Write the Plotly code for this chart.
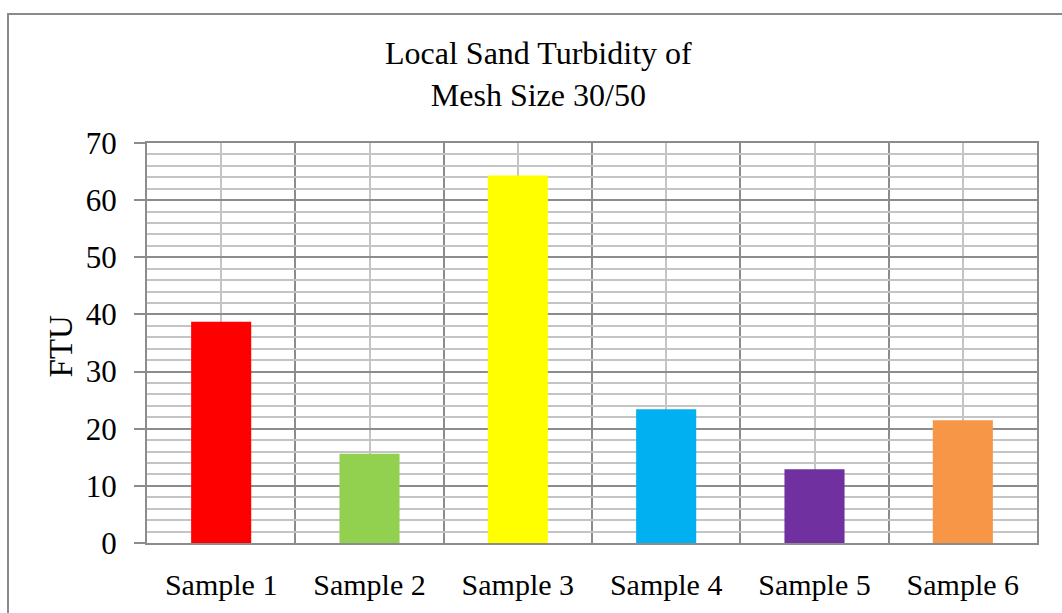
import plotly.graph_objects as go

# Turbidity readings (FTU) for each local sand sample, mesh size 30/50
categories = ["Sample 1", "Sample 2", "Sample 3", "Sample 4", "Sample 5", "Sample 6"]
turbidity = [38.7, 15.6, 64.3, 23.4, 12.9, 21.5]
bar_colors = ["#FF0000", "#92D050", "#FFFF00", "#00B0F0", "#7030A0", "#F79646"]
y_ticks = [0, 10, 20, 30, 40, 50, 60, 70]

positions = list(range(len(categories)))
boundaries = [p + 0.5 for p in range(-1, len(categories))]

FONT = "Liberation Serif, Times New Roman, serif"
DARK = "#8c8c8c"
LIGHT = "#c4c4c4"

fig = go.Figure(
    go.Bar(
        x=positions,
        y=turbidity,
        marker=dict(color=bar_colors, line=dict(width=0)),
        width=0.405,
        hoverinfo="y",
    )
)

fig.update_layout(
    width=1062,
    height=613,
    margin=dict(l=147, r=25, t=143, b=67),
    paper_bgcolor="white",
    plot_bgcolor="white",
    showlegend=False,
    font=dict(family=FONT, color="black"),
    xaxis=dict(
        range=[-0.5, len(categories) - 0.5],
        tickmode="array",
        tickvals=positions,
        ticktext=categories,
        tickfont=dict(size=30, family=FONT, color="black"),
        ticks="",
        ticklabelstandoff=14,
        showgrid=True,
        gridcolor=LIGHT,
        gridwidth=2,
        minor=dict(tickmode="array", tickvals=boundaries, showgrid=True,
                   gridcolor=DARK, gridwidth=2, ticks=""),
        showline=True,
        linecolor=DARK,
        linewidth=2,
        mirror=True,
        zeroline=False,
        fixedrange=True,
    ),
    yaxis=dict(
        range=[0, 70],
        tickmode="array",
        tickvals=y_ticks,
        tickfont=dict(size=31, family=FONT, color="black"),
        ticks="outside",
        ticklen=11,
        tickwidth=2,
        tickcolor=DARK,
        ticklabelstandoff=11,
        showgrid=True,
        gridcolor=DARK,
        gridwidth=2,
        minor=dict(dtick=2, tick0=0, showgrid=True, gridcolor=LIGHT,
                   gridwidth=2, ticks=""),
        showline=True,
        linecolor=DARK,
        linewidth=2,
        mirror=True,
        zeroline=False,
        fixedrange=True,
    ),
    annotations=[
        dict(
            text="Local Sand Turbidity of<br>Mesh Size 30/50",
            xref="paper", yref="paper",
            x=(538 - 147) / 890, y=(546 - 73) / 403,
            xanchor="center", yanchor="middle",
            showarrow=False,
            font=dict(size=32, family=FONT, color="black"),
        ),
        dict(
            text="FTU",
            xref="paper", yref="paper",
            x=(61 - 147) / 890, y=(546 - 348) / 403,
            xanchor="center", yanchor="middle",
            textangle=-90,
            showarrow=False,
            font=dict(size=33, family=FONT, color="black"),
        ),
    ],
    shapes=[
        dict(
            type="rect", xref="paper", yref="paper",
            x0=(8 - 147) / 890, x1=1.2,
            y0=-0.3, y1=(546 - 13) / 403,
            line=dict(color="#8a8a8a", width=2),
            fillcolor="rgba(0,0,0,0)",
            layer="below",
        )
    ],
)

fig.write_html("out.html")
